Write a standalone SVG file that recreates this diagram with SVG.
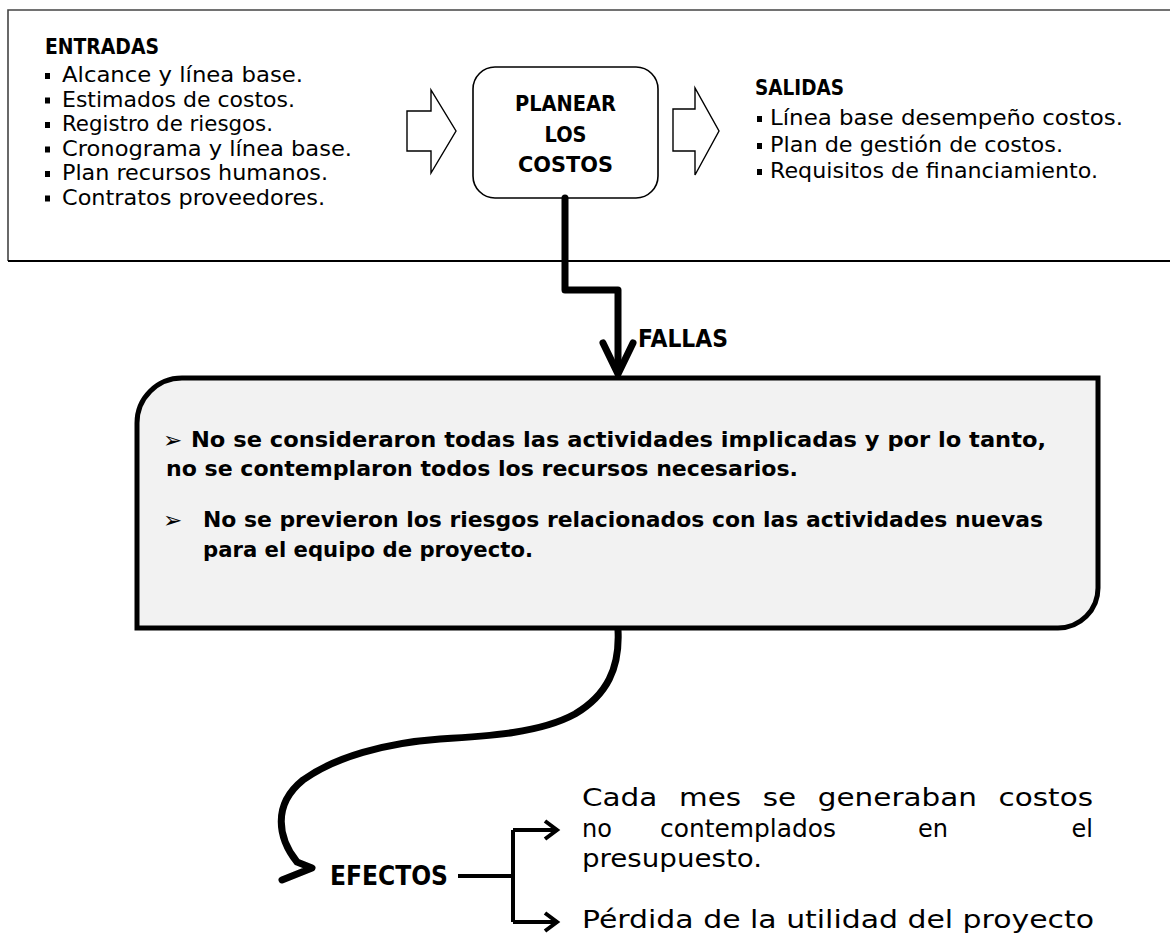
<svg xmlns="http://www.w3.org/2000/svg" width="1170" height="939" viewBox="0 0 1170 939">
<style>
.bg{fill:#ffffff}
.hd{font-family:"DejaVu Sans",sans-serif;font-weight:bold;fill:#000}
.it{font-family:"DejaVu Sans",sans-serif;font-size:21px;fill:#000}
.fb{font-family:"DejaVu Sans",sans-serif;font-weight:bold;font-size:21px;fill:#000}
.ar{font-family:"DejaVu Sans",sans-serif;font-size:23px;fill:#000}
.ef{font-family:"DejaVu Sans",sans-serif;font-size:24px;fill:#000}
.blk{fill:#000}
.thick{fill:none;stroke:#000;stroke-width:7;stroke-linejoin:round;stroke-linecap:round}
.med{fill:none;stroke:#000;stroke-width:4;stroke-linejoin:miter}
.hollow{fill:#fff;stroke:#000;stroke-width:1.4;stroke-linejoin:miter}
</style>
<rect class="bg" x="0" y="0" width="1170" height="939"/>

<g id="top-frame">
  <path d="M1170,10 H8 V261" fill="none" stroke="#444" stroke-width="1.6"/>
  <path d="M8,261 H1170" fill="none" stroke="#000" stroke-width="2"/>
</g>

<g id="entradas">
  <text class="hd" x="45" y="54" font-size="21" textLength="114" lengthAdjust="spacingAndGlyphs">ENTRADAS</text>
  <rect class="blk" x="45" y="73" width="5" height="6"/>
  <text class="it" x="62" y="82" textLength="241" lengthAdjust="spacingAndGlyphs">Alcance y línea base.</text>
  <rect class="blk" x="45" y="97.5" width="5" height="6"/>
  <text class="it" x="62" y="106.5" textLength="233" lengthAdjust="spacingAndGlyphs">Estimados de costos.</text>
  <rect class="blk" x="45" y="122" width="5" height="6"/>
  <text class="it" x="62" y="131" textLength="211" lengthAdjust="spacingAndGlyphs">Registro de riesgos.</text>
  <rect class="blk" x="45" y="146.5" width="5" height="6"/>
  <text class="it" x="62" y="155.5" textLength="290" lengthAdjust="spacingAndGlyphs">Cronograma y línea base.</text>
  <rect class="blk" x="45" y="171" width="5" height="6"/>
  <text class="it" x="62" y="180" textLength="266" lengthAdjust="spacingAndGlyphs">Plan recursos humanos.</text>
  <rect class="blk" x="45" y="195.5" width="5" height="6"/>
  <text class="it" x="62" y="204.5" textLength="263" lengthAdjust="spacingAndGlyphs">Contratos proveedores.</text>
</g>

<g id="input-arrow">
  <polygon class="hollow" points="407,111 431,111 431,90 456,131 431,173 431,151 407,151"/>
</g>

<g id="planear">
  <rect x="473" y="67" width="185" height="131" rx="22" ry="22" fill="#fff" stroke="#000" stroke-width="1.6"/>
  <text class="hd" x="515" y="111" font-size="21" textLength="101" lengthAdjust="spacingAndGlyphs">PLANEAR</text>
  <text class="hd" x="544.5" y="142" font-size="21" textLength="42" lengthAdjust="spacingAndGlyphs">LOS</text>
  <text class="hd" x="518" y="172" font-size="21" textLength="95" lengthAdjust="spacingAndGlyphs">COSTOS</text>
</g>

<g id="output-arrow">
  <polygon class="hollow" points="673,109 695,109 695,88 719,131 695,175 695,151 673,151"/>
</g>

<g id="salidas">
  <text class="hd" x="755" y="95" font-size="21" textLength="89" lengthAdjust="spacingAndGlyphs">SALIDAS</text>
  <rect class="blk" x="757" y="116" width="5" height="6"/>
  <text class="it" x="770" y="125" textLength="353" lengthAdjust="spacingAndGlyphs">Línea base desempeño costos.</text>
  <rect class="blk" x="757" y="143" width="5" height="6"/>
  <text class="it" x="770" y="152" textLength="293" lengthAdjust="spacingAndGlyphs">Plan de gestión de costos.</text>
  <rect class="blk" x="757" y="169" width="5" height="6"/>
  <text class="it" x="770" y="178" textLength="328" lengthAdjust="spacingAndGlyphs">Requisitos de financiamiento.</text>
</g>

<g id="fallas-box">
  <path d="M182,378 H1098 V588 A40,40 0 0 1 1058,628 H137 V423 A45,45 0 0 1 182,378 Z" fill="#f2f2f2" stroke="#000" stroke-width="5"/>
  <text class="ar" x="163" y="448">➢</text>
  <text class="fb" x="191" y="447" textLength="855" lengthAdjust="spacingAndGlyphs">No se consideraron todas las actividades implicadas y por lo tanto,</text>
  <text class="fb" x="166" y="476" textLength="632" lengthAdjust="spacingAndGlyphs">no se contemplaron todos los recursos necesarios.</text>
  <text class="ar" x="163" y="528">➢</text>
  <text class="fb" x="203" y="527" textLength="840" lengthAdjust="spacingAndGlyphs">No se previeron los riesgos relacionados con las actividades nuevas</text>
  <text class="fb" x="203" y="557" textLength="330" lengthAdjust="spacingAndGlyphs">para el equipo de proyecto.</text>
</g>

<g id="fallas-label">
  <text class="hd" x="638" y="347" font-size="25" textLength="90" lengthAdjust="spacingAndGlyphs">FALLAS</text>
</g>

<g id="efectos">
  <text class="hd" x="330" y="885" font-size="26" textLength="118" lengthAdjust="spacingAndGlyphs">EFECTOS</text>
</g>

<g id="effect1">
  <text class="ef" x="582" y="806" word-spacing="10" textLength="511" lengthAdjust="spacingAndGlyphs">Cada mes se generaban costos</text>
  <text class="ef" x="582" y="837">no</text>
  <text class="ef" x="660" y="837" textLength="176" lengthAdjust="spacingAndGlyphs">contemplados</text>
  <text class="ef" x="918" y="837">en</text>
  <text class="ef" x="1093" y="837" text-anchor="end">el</text>
  <text class="ef" x="582" y="867" textLength="180" lengthAdjust="spacingAndGlyphs">presupuesto.</text>
</g>

<g id="effect2">
  <text class="ef" x="582" y="928" textLength="512" lengthAdjust="spacingAndGlyphs">Pérdida de la utilidad del proyecto</text>
</g>

<g id="connectors">
  <path class="thick" d="M565,198 V290 H618 V372"/>
  <polyline class="thick" points="603,343 618,374 633,343"/>
  <path class="thick" d="M618,630 C620,668 607,695 575,714 C540,733 490,736 440,739 C385,743 335,757 303,780 C272,805 278,838 297,862 L312,868 L282,880"/>
  <path class="med" d="M458,876 H513"/>
  <path class="med" d="M513,830 V922"/>
  <path class="med" d="M513,830 H556 M545,821 L557,830 L545,839"/>
  <path class="med" d="M513,922 H556 M545,913 L557,922 L545,931"/>
</g>
</svg>
